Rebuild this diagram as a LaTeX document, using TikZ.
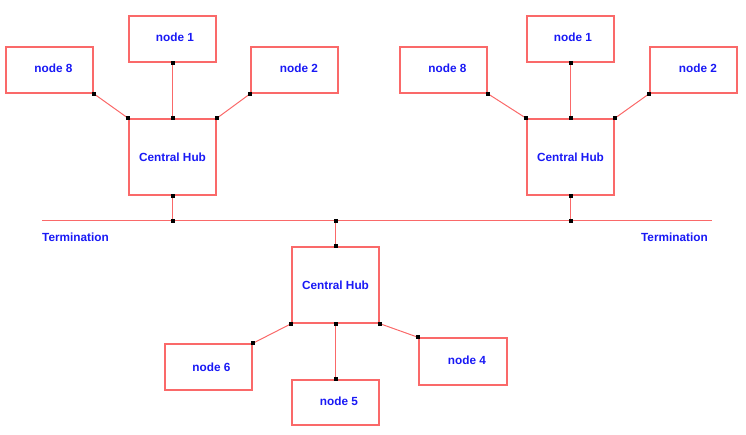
\documentclass[tikz,border=0pt]{standalone}
\usepackage{fontspec}
\setmainfont{Liberation Sans}
\definecolor{linered}{RGB}{250,105,105}
\definecolor{txtblue}{RGB}{25,25,245}
\begin{document}
\begin{tikzpicture}[x=1pt,y=-1pt,
  box/.style={draw=linered, line width=1.1pt, rectangle, minimum width=87pt, minimum height=46pt, inner sep=0pt,
    font=\fontsize{11.8}{14}\selectfont\bfseries, text=txtblue},
  hub/.style={box, minimum height=76pt},
  conn/.style={draw=linered, line width=1pt},
  dot/.style={fill=black, rectangle, minimum size=4pt, inner sep=0pt},
  term/.style={font=\fontsize{11.8}{14}\selectfont\bfseries, text=txtblue, inner sep=0pt}]
\useasboundingbox (0,0) rectangle (746,435);
% left group
\node[box] (l1) at (172.5,39) {\hspace*{5pt}node 1\rule[-3pt]{0pt}{1pt}};
\node[box] (l8) at (49.5,70) {\hspace*{8pt}node 8\rule[-3pt]{0pt}{1pt}};
\node[box] (l2) at (294.5,70) {\hspace*{9pt}node 2\rule[-3pt]{0pt}{1pt}};
\node[hub] (lh) at (172.5,157) {Central Hub};
% right group
\node[box] (r1) at (570.5,39) {\hspace*{5pt}node 1\rule[-3pt]{0pt}{1pt}};
\node[box] (r8) at (443.5,70) {\hspace*{8pt}node 8\rule[-3pt]{0pt}{1pt}};
\node[box] (r2) at (693.5,70) {\hspace*{9pt}node 2\rule[-3pt]{0pt}{1pt}};
\node[hub] (rh) at (570.5,157) {Central Hub};
% middle group
\node[hub] (mh) at (335.5,285) {Central Hub};
\node[box] (m6) at (208.5,367) {\hspace*{6pt}node 6};
\node[box, minimum height=45pt] (m5) at (335.5,402.5) {\hspace*{7pt}node 5\rule[-3pt]{0pt}{1pt}};
\node[box, minimum width=88pt, minimum height=47pt] (m4) at (463,361.5) {\hspace*{8pt}node 4\rule[-3pt]{0pt}{1pt}};
% bus
\coordinate (busL) at (42,221);
\coordinate (busR) at (712,221);
\draw[conn] (busL) -- (busR);
\node[term, anchor=west] (tl) at (42,237) {Termination};
\node[term, anchor=east] (tr) at (708,237) {Termination};
% left connectors
\draw[conn] (l8.south east) -- (lh.north west);
\draw[conn] (l1.south) -- (lh.north);
\draw[conn] (l2.south west) -- (lh.north east);
\draw[conn] (lh.south) -- (lh.south |- busL);
% right connectors
\draw[conn] (r8.south east) -- (rh.north west);
\draw[conn] (r1.south) -- (rh.north);
\draw[conn] (r2.south west) -- (rh.north east);
\draw[conn] (rh.south) -- (rh.south |- busL);
% middle connectors
\draw[conn] (mh.north) -- (mh.north |- busL);
\draw[conn] (mh.south west) -- (m6.north east);
\draw[conn] (mh.south) -- (m5.north);
\draw[conn] (mh.south east) -- (m4.north west);
% dots
\foreach \p in {l8.south east, lh.north west, l1.south, lh.north, l2.south west, lh.north east, lh.south,
  r8.south east, rh.north west, r1.south, rh.north, r2.south west, rh.north east, rh.south,
  mh.north, mh.south west, m6.north east, mh.south, m5.north, mh.south east, m4.north west}
  \node[dot] at (\p) {};
\node[dot] at (lh.south |- busL) {};
\node[dot] at (rh.south |- busL) {};
\node[dot] at (mh.north |- busL) {};
\end{tikzpicture}
\end{document}
